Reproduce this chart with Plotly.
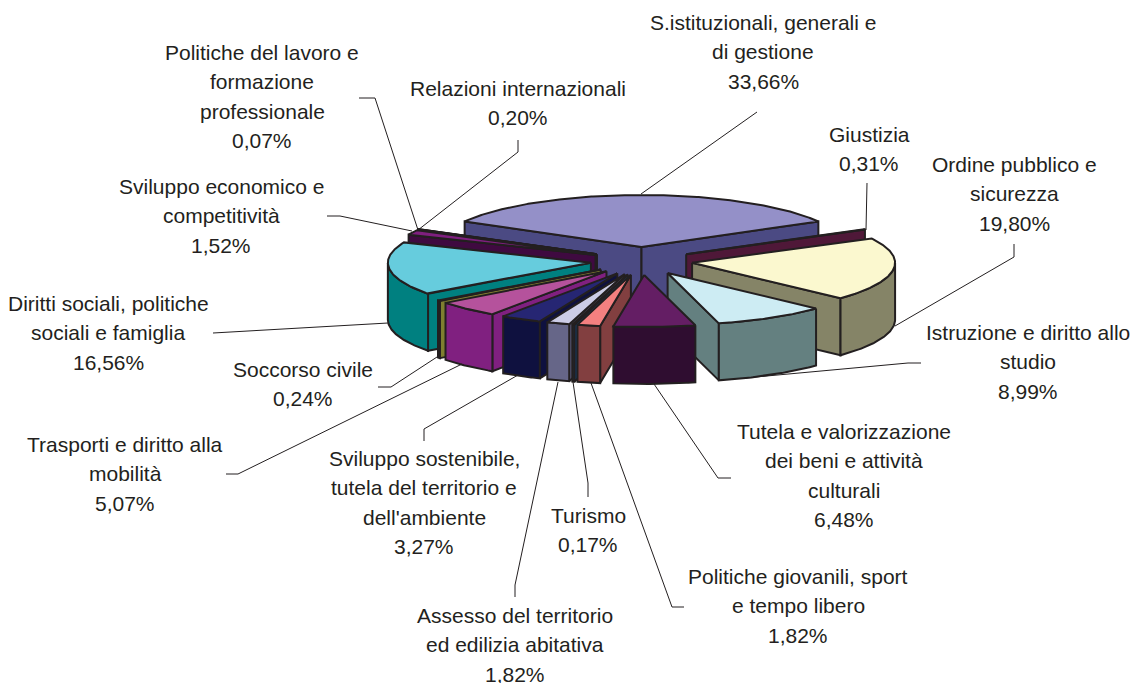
import numpy as np
import plotly.graph_objects as go

# --- data -----------------------------------------------------------------
names = [
    ["S.istituzionali, generali e", "di gestione"],
    ["Giustizia"],
    ["Ordine pubblico e", "sicurezza"],
    ["Istruzione e diritto allo", "studio"],
    ["Tutela e valorizzazione", "dei beni e attività", "culturali"],
    ["Politiche giovanili, sport", "e tempo libero"],
    ["Turismo"],
    ["Assesso del territorio", "ed edilizia abitativa"],
    ["Sviluppo sostenibile,", "tutela del territorio e", "dell'ambiente"],
    ["Trasporti e diritto alla", "mobilità"],
    ["Soccorso civile"],
    ["Diritti sociali, politiche", "sociali e famiglia"],
    ["Sviluppo economico e", "competitività"],
    ["Politiche del lavoro e", "formazione", "professionale"],
    ["Relazioni internazionali"],
]
values = [33.66, 0.31, 19.80, 8.99, 6.48, 1.82, 0.17, 1.82, 3.27, 5.07, 0.24, 16.56, 1.52, 0.07, 0.20]
top_colors = ["#9490C8", "#7A1F55", "#FBF8CF", "#CDECF3", "#641E64", "#F48080", "#0A6A9E", "#CCCCE6",
              "#262673", "#B5529C", "#C4C44E", "#66CCDD", "#7F1F7F", "#7F1D1D", "#007F7F"]
side_colors = ["#4B4A83", "#4F1838", "#858467", "#648080", "#2F0D30", "#823F40", "#15406A", "#666688",
               "#0F113F", "#802080", "#7F7F30", "#008080", "#3F0A40", "#3F0A10", "#004040"]

# --- label layout: centre x, y of first line, line step ---------------------
label_x = [763, 869, 1014, 1028, 844, 798, 588, 515, 424, 125, 303, 108, 221, 262, 518]
label_y = [22, 134, 164, 332, 431, 576, 515, 615, 458, 444, 369, 303, 186, 52, 88]
LINE_STEP = 29.6
leaders = [
    [(757, 112), (641, 194)],
    [(867, 183), (866, 230)],
    [(1014, 244), (1014, 257), (895, 326)],
    [(921, 363), (908, 363), (745, 378)],
    [(731, 478), (718, 478), (654, 384)],
    [(684, 607), (672, 607), (591, 383)],
    [(588, 497), (588, 483), (573, 382)],
    [(515, 597), (515, 585), (558, 382)],
    [(424, 441), (424, 429), (518, 375)],
    [(226, 474), (238, 474), (462, 364)],
    [(378, 387), (391, 387), (437, 357)],
    [(213, 333), (388, 323)],
    [(327, 216), (340, 216), (412, 231)],
    [(359, 98), (375, 98), (418, 230)],
    [(518, 140), (518, 152), (418, 230)],
]

# --- pie geometry ----------------------------------------------------------
CX, CY = 641.5, 261
RX, RY = 203, 52
EX, EY = 51, 14
H = 57
FIRST = -60.6
INK = "#231F20"

frac = np.array(values) / sum(values)
edges = FIRST + 360 * np.concatenate([[0], np.cumsum(frac)])


def pt(ax, ay, deg, r=1.0, drop=0.0):
    a = np.radians(deg)
    return ax + RX * r * np.sin(a), ay - RY * r * np.cos(a) + drop


fig = go.Figure()


def poly(xs, ys, fill):
    fig.add_trace(go.Scatter(x=list(xs), y=list(ys), mode="lines", fill="toself", fillcolor=fill,
                             line=dict(color=INK, width=2), hoverinfo="skip", showlegend=False))


mids = (edges[:-1] + edges[1:]) / 2
order = np.argsort(-np.cos(np.radians(mids)), kind="stable")
for i in order:
    a0, a1, m = edges[i], edges[i + 1], np.radians(mids[i])
    ax, ay = CX + EX * np.sin(m), CY - EY * np.cos(m)
    arc = np.linspace(a0, a1, max(3, int((a1 - a0) * 2)))

    # radial faces that look toward the viewer
    for ang, visible in ((a0, np.sin(np.radians(a0)) < 0), (a1, np.sin(np.radians(a1)) > 0)):
        if visible:
            px, py = pt(ax, ay, ang)
            poly([ax, px, px, ax, ax], [ay, py, py + H, ay + H, ay], side_colors[i])

    # outer wall: only the arc on the near half
    near = arc[np.cos(np.radians(arc)) <= 0]
    if len(near) > 1:
        wx, wy = pt(ax, ay, near)
        poly(np.r_[wx, wx[::-1], wx[0]], np.r_[wy, wy[::-1] + H, wy[0]], side_colors[i])

    # top
    tx, ty = pt(ax, ay, arc)
    poly(np.r_[ax, tx, ax], np.r_[ay, ty, ay], top_colors[i])

# leader lines
for path in leaders:
    fig.add_trace(go.Scatter(x=[p[0] for p in path], y=[p[1] for p in path], mode="lines",
                             line=dict(color=INK, width=1), hoverinfo="skip", showlegend=False))

# labels
for nm, v, lx, ly in zip(names, values, label_x, label_y):
    lines = nm + [f"{v:.2f}".replace(".", ",") + "%"]
    for k, txt in enumerate(lines):
        fig.add_annotation(x=lx, y=ly + k * LINE_STEP, text=txt, showarrow=False, xanchor="center",
                           yanchor="middle", font=dict(family="Liberation Sans", size=21, color="#231F20"))

fig.update_layout(
    width=1133, height=683, margin=dict(l=0, r=0, t=0, b=0), showlegend=False,
    paper_bgcolor="white", plot_bgcolor="white",
    xaxis=dict(range=[0, 1133], visible=False, fixedrange=True),
    yaxis=dict(range=[683, 0], visible=False, fixedrange=True),
)
fig.write_html("out.html", config={"displayModeBar": False},
               post_script="document.body.style.margin='0';document.documentElement.style.overflow='hidden';")
